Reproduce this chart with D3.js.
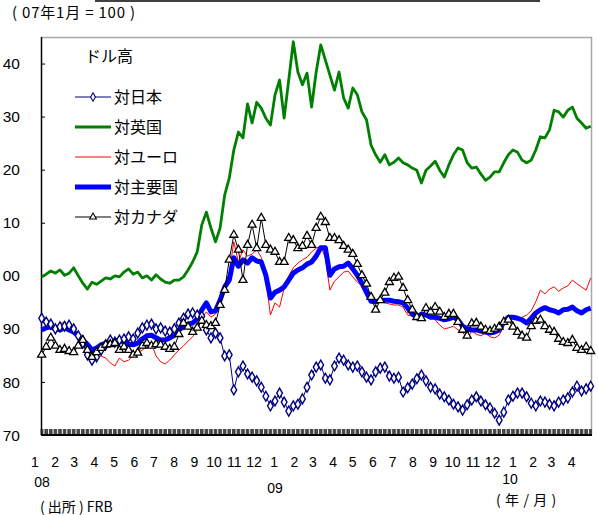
<!DOCTYPE html>
<html><head><meta charset="utf-8">
<script src="https://cdn.jsdelivr.net/npm/d3@7"></script>
<style>body{margin:0;background:#fff}svg{display:block}</style>
</head><body><svg id="c" width="598" height="515"></svg>
<script>
// ---------- data (weekly observations, 2008-01-02 .. 2010-04-21) ----------
const firstWeek = "2008-01-02";
const seriesNames = ["対日本","対英国","対ユーロ","対主要国","対カナダ"];
const yTickValues = [70,80,90,100,110,120,130,140];
const yTickLabels = ["70","80","90","00","10","20","30","40"];
const monthLabels = ["1","2","3","4","5","6","7","8","9","10","11","12","1","2","3","4","5","6","7","8","9","10","11","12","1","2","3","4"];
const yearLabels = ["08","09","10"];

const japan = [92.0,91.3,90.9,90.0,90.4,90.5,90.7,90.0,88.7,87.3,85.1,84.1,84.7,86.0,87.0,87.9,87.5,87.9,88.1,88.5,88.1,89.2,90.2,90.7,90.9,90.0,90.2,89.6,89.4,90.0,
  91.1,92.0,92.8,93.0,92.6,92.4,89.8,88.3,89.2,88.3,84.9,85.1,78.5,81.9,83.0,81.5,80.9,80.2,79.0,77.3,75.5,76.4,77.9,76.2,74.5,75.5,75.8,76.8,79.0,81.3,
  82.8,83.2,80.7,80.4,83.0,84.5,84.1,83.2,82.8,83.0,81.9,80.9,80.4,81.9,82.6,82.8,81.1,80.7,80.9,78.1,78.9,79.6,80.6,81.3,80.2,79.0,78.7,77.7,77.2,76.6,
  75.8,75.3,74.7,75.7,76.6,77.2,76.4,75.7,75.1,74.1,72.8,74.3,76.6,77.3,77.9,77.9,77.2,76.0,75.5,76.4,76.2,75.8,75.5,76.2,76.6,77.0,78.1,79.2,78.3,78.7,79.2];
const uk = [99.8,100.3,100.9,100.5,101.1,100.1,100.5,101.5,100.0,98.6,97.5,98.8,98.4,99.0,99.6,99.4,100.0,99.8,100.7,101.3,100.3,100.7,99.6,100.0,99.2,100.2,99.4,98.8,98.6,99.2,
  99.2,99.8,101.1,102.6,104.5,109.6,112.0,109.0,106.4,109.0,115.2,118.4,123.7,127.1,126.0,132.4,128.8,132.7,131.6,129.7,128.4,134.1,136.9,129.7,136.9,144.1,138.4,136.0,138.2,131.8,
  138.4,143.5,140.7,137.8,135.0,138.4,133.5,131.6,135.4,134.1,130.9,129.4,124.6,122.8,121.4,122.8,120.9,121.4,122.2,121.3,120.9,120.3,119.9,117.5,119.9,120.7,121.6,119.9,118.6,120.9,
  122.8,124.1,123.7,121.3,120.3,120.5,119.2,118.0,118.6,119.6,119.6,121.3,122.8,123.7,123.3,121.8,121.3,121.8,123.7,126.2,126.0,127.5,131.2,130.9,129.9,131.2,131.8,129.7,128.8,127.8,128.2];
const euro = [90.0,90.4,90.5,90.4,90.9,91.3,90.5,90.0,88.8,87.3,85.6,84.9,84.7,84.9,84.5,83.6,83.0,84.5,83.8,84.1,84.9,85.5,86.0,86.6,87.3,84.9,83.8,83.4,84.1,85.1,
  86.0,86.8,87.7,88.5,89.8,92.0,93.2,92.2,92.8,94.9,98.3,100.5,106.4,102.6,104.9,103.7,104.1,104.9,103.5,99.6,92.6,94.9,94.1,97.7,100.0,101.5,102.4,103.0,103.5,104.5,
  105.2,105.6,103.4,97.3,99.0,99.8,100.7,100.9,99.8,98.8,98.1,97.1,95.6,94.9,95.1,94.9,94.7,94.5,94.5,94.1,92.6,92.4,92.0,92.2,92.4,93.0,91.7,90.7,90.0,90.2,
  90.5,89.8,89.4,88.1,89.6,89.0,88.7,89.2,88.5,88.3,88.8,90.5,92.0,92.0,91.9,92.2,92.6,93.4,95.1,97.3,96.6,97.5,97.9,97.1,97.7,98.1,99.2,98.5,97.9,97.3,99.6];
const major = [89.8,90.2,90.4,90.0,89.8,90.2,89.8,89.4,88.7,87.9,87.1,86.0,86.4,87.0,87.3,87.5,87.7,87.9,87.5,87.1,87.0,87.3,88.1,88.7,88.8,88.3,87.9,87.9,88.3,88.8,
  89.8,90.4,90.9,91.1,91.9,93.6,94.9,93.2,93.4,95.4,97.9,99.2,103.4,101.8,103.0,102.4,103.4,102.8,102.6,100.1,95.8,96.9,97.3,97.9,99.2,100.5,101.1,101.5,102.2,102.6,
  103.7,105.3,105.3,100.1,101.3,101.7,101.8,102.4,101.3,100.1,98.6,96.9,95.2,95.1,95.4,95.4,95.4,95.2,95.1,94.9,93.9,92.8,92.2,92.8,92.6,92.2,92.2,92.0,91.7,91.9,
  92.2,91.7,90.5,90.0,89.8,89.8,89.6,89.4,89.2,89.4,89.8,91.3,92.2,92.2,92.0,91.7,91.1,92.0,93.0,93.6,94.0,93.6,93.4,93.0,93.6,93.7,94.1,93.4,93.0,93.6,93.9];
const canada = [85.1,86.6,88.3,86.8,86.0,86.2,85.8,85.6,86.8,87.9,86.0,84.7,85.6,86.4,87.0,87.1,87.3,86.0,86.6,86.0,85.1,85.5,86.8,87.3,86.8,87.1,87.0,86.6,86.2,86.6,
  89.0,91.1,90.4,89.4,90.2,91.5,90.7,90.5,91.1,94.5,97.3,103.0,107.7,104.9,99.2,105.8,109.6,105.2,110.9,105.8,104.9,104.5,102.6,102.6,107.1,106.7,105.2,105.6,107.5,105.8,
  109.0,111.1,110.1,107.1,107.1,106.7,105.6,104.9,104.1,102.2,100.1,98.5,96.0,93.6,95.4,96.8,98.8,99.6,99.8,97.7,95.4,93.6,92.2,92.0,93.9,93.2,94.1,93.2,92.2,92.8,
  92.8,91.3,89.8,88.7,91.0,91.1,90.4,89.8,89.6,90.0,90.4,91.3,91.7,90.4,89.4,88.7,88.3,90.5,91.5,91.7,90.5,89.8,89.4,88.1,87.5,87.3,87.9,86.4,86.0,86.6,85.8];

// ---------- layout ----------
const svg = d3.select("#c");
const L = 41, R = 592, T = 37, B = 435;
const parse = d3.utcParse("%Y-%m-%d");
const d0 = parse(firstWeek);
const dates = japan.map((_, i) => d3.utcDay.offset(d0, 7 * i));
const x = d3.scaleUtc().domain([parse("2008-01-01"), parse("2010-04-23")]).range([L, R]);
const y = d3.scaleLinear().domain([70, 145]).range([B, T]);
const numFont = "'Liberation Sans', Arial, sans-serif";
const jpFont = "'Noto Sans CJK JP', 'Noto Sans', sans-serif";

// header
svg.append("line").attr("x1", 95).attr("x2", 540).attr("y1", 1).attr("y2", 1)
  .attr("stroke", "#000").attr("stroke-width", 1.5);
svg.append("text").attr("x", 12).attr("y", 18).attr("font-family", jpFont)
  .attr("font-size", 15).attr("letter-spacing", 0.8).attr("fill", "#000").text("( 07年1月 = 100 )");

// frame
svg.append("line").attr("x1", L).attr("x2", R).attr("y1", T + 0.5).attr("y2", T + 0.5)
  .attr("stroke", "#a8a8a8").attr("stroke-width", 1.5);
svg.append("line").attr("x1", R - 0.5).attr("x2", R - 0.5).attr("y1", T).attr("y2", B)
  .attr("stroke", "#a8a8a8").attr("stroke-width", 1.5);

// y axis
const yAxis = d3.axisRight(y).tickValues(yTickValues.slice(1)).tickSize(4).tickFormat("");
const ya = svg.append("g").attr("transform", `translate(${L},0)`).call(yAxis);
ya.select(".domain").remove();
ya.selectAll(".tick line").attr("stroke", "#000");
svg.append("line").attr("x1", L + 0.5).attr("x2", L + 0.5).attr("y1", T).attr("y2", B)
  .attr("stroke", "#000").attr("stroke-width", 1.5);
svg.append("g").selectAll("text").data(yTickValues).join("text")
  .attr("x", 20).attr("y", d => y(d)).attr("dy", "0.36em").attr("text-anchor", "end")
  .attr("font-family", numFont).attr("font-size", 15.5).attr("fill", "#000")
  .text((d, i) => yTickLabels[i]);

// x axis: dense business-day ticks
const days = d3.utcDay.range(parse("2008-01-01"), parse("2010-04-23"))
  .filter(d => d.getUTCDay() !== 0 && d.getUTCDay() !== 6);
svg.append("g").selectAll("line").data(days).join("line")
  .attr("x1", d => x(d)).attr("x2", d => x(d)).attr("y1", B - 6).attr("y2", B)
  .attr("stroke", "#222").attr("stroke-width", 0.8);
svg.append("line").attr("x1", L).attr("x2", R).attr("y1", B).attr("y2", B)
  .attr("stroke", "#000").attr("stroke-width", 2);

const months = d3.utcMonth.range(parse("2008-01-01"), parse("2010-04-23"));
svg.append("g").selectAll("text").data(months).join("text")
  .attr("x", d => x(d) - 6).attr("y", 467).attr("text-anchor", "middle")
  .attr("font-family", numFont).attr("font-size", 14).attr("fill", "#000")
  .text((d, i) => monthLabels[i]);
const yearPos = [[42, 487], [275, 493], [510, 484]];
svg.append("g").selectAll("text").data(yearLabels).join("text")
  .attr("x", (d, i) => yearPos[i][0]).attr("y", (d, i) => yearPos[i][1]).attr("text-anchor", "middle")
  .attr("font-family", numFont).attr("font-size", 14).attr("fill", "#000").text(d => d);
svg.append("text").attr("x", 496).attr("y", 505).attr("font-family", jpFont)
  .attr("font-size", 14).attr("letter-spacing", 0.6).attr("fill", "#000").text("( 年 / 月 )");
svg.append("text").attr("x", 40).attr("y", 512).attr("font-family", jpFont)
  .attr("font-size", 14).attr("fill", "#000").text("( 出所 ) FRB");

// series
const pts = arr => arr.map((v, i) => [dates[i], v]);
const line = d3.line().x(d => x(d[0])).y(d => y(d[1]));
const drawLine = (arr, color, w) => svg.append("path").datum(pts(arr)).attr("d", line)
  .attr("fill", "none").attr("stroke", color).attr("stroke-width", w).attr("stroke-linejoin", "round");

drawLine(uk, "#008000", 2.8);
drawLine(euro, "#ff0000", 1);
drawLine(major, "#0000ff", 5);
drawLine(japan, "#000080", 1);
svg.append("g").selectAll("path").data(pts(japan)).join("path")
  .attr("d", d3.symbol(d3.symbolDiamond, 28)())
  .attr("transform", d => `translate(${x(d[0])},${y(d[1])})`)
  .attr("fill", "#fff").attr("stroke", "#000080").attr("stroke-width", 1.4);
drawLine(canada, "#000", 1);
svg.append("g").selectAll("path").data(pts(canada)).join("path")
  .attr("d", d3.symbol(d3.symbolTriangle, 28)())
  .attr("transform", d => `translate(${x(d[0])},${y(d[1])})`)
  .attr("fill", "#fff").attr("stroke", "#000").attr("stroke-width", 1.3);

// legend
svg.append("text").attr("x", 85).attr("y", 62).attr("font-family", jpFont)
  .attr("font-size", 16).attr("fill", "#000").text("ドル高");
const legRows = [
  {name: seriesNames[0], c: "#000080", w: 1, m: "d", y: 97},
  {name: seriesNames[1], c: "#008000", w: 2.8, m: null, y: 127},
  {name: seriesNames[2], c: "#ff0000", w: 1, m: null, y: 157},
  {name: seriesNames[3], c: "#0000ff", w: 5, m: null, y: 187},
  {name: seriesNames[4], c: "#000", w: 1, m: "t", y: 217}
];
const lg = svg.append("g").selectAll("g").data(legRows).join("g")
  .attr("transform", d => `translate(0,${d.y})`);
lg.append("line").attr("x1", 75).attr("x2", 111).attr("stroke", d => d.c).attr("stroke-width", d => d.w);
lg.filter(d => d.m).append("path")
  .attr("d", d => d3.symbol(d.m === "d" ? d3.symbolDiamond : d3.symbolTriangle, 20)())
  .attr("transform", "translate(93,0)")
  .attr("fill", "#fff").attr("stroke", d => d.c).attr("stroke-width", 1.1);
lg.append("text").attr("x", 114).attr("dy", "0.36em").attr("font-family", jpFont)
  .attr("font-size", 16).attr("fill", "#000").text(d => d.name);
</script></body></html>
